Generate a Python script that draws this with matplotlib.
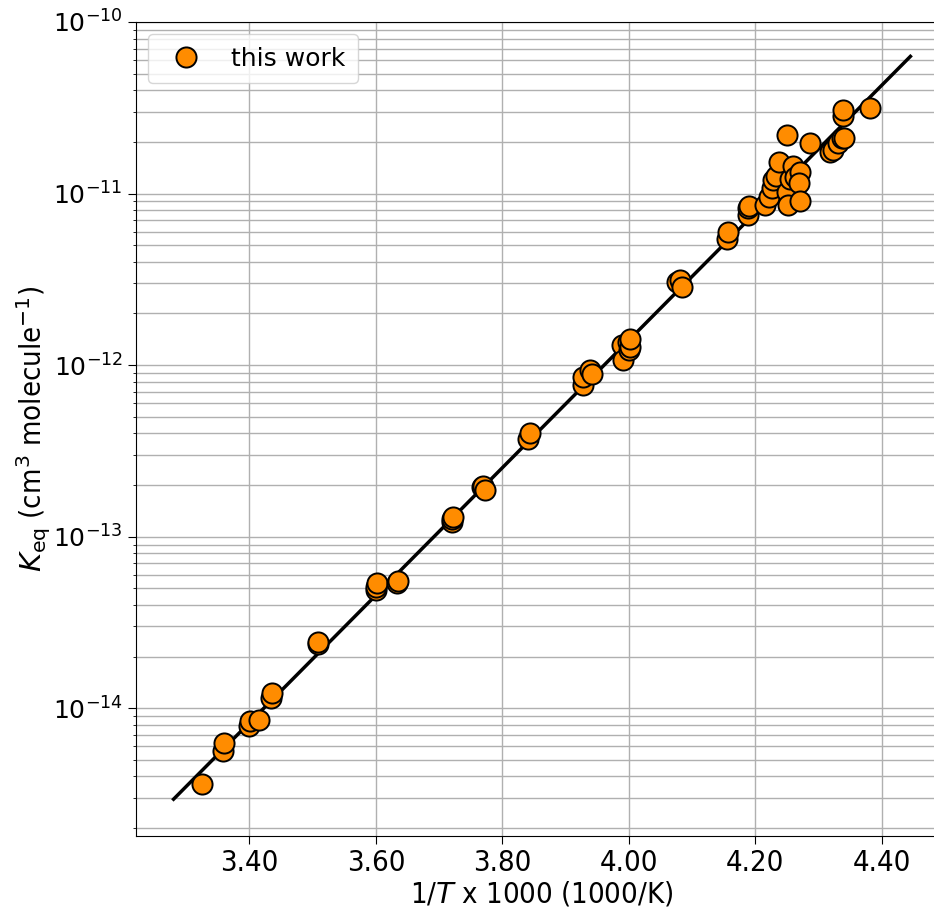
import matplotlib
matplotlib.use("Agg")
import matplotlib.pyplot as plt
from matplotlib import font_manager

# === Data ===
inv_T = [3.325, 3.358, 3.360, 3.400, 3.401, 3.415, 3.434, 3.435, 3.508, 3.509,
         3.600, 3.600, 3.601, 3.633, 3.635, 3.720, 3.721, 3.722, 3.768, 3.770,
         3.772, 3.841, 3.843, 3.927, 3.928, 3.938, 3.942, 3.989, 3.991, 3.998,
         4.000, 4.002, 4.001, 4.076, 4.081, 4.084, 4.155, 4.157, 4.188, 4.189,
         4.190, 4.215, 4.222, 4.226, 4.228, 4.232, 4.237, 4.250, 4.250, 4.252,
         4.255, 4.260, 4.262, 4.270, 4.269, 4.270, 4.286, 4.318, 4.322, 4.330,
         4.337, 4.340, 4.338, 4.339, 4.381]
k_eq = [3.6e-15, 5.6e-15, 6.3e-15, 7.9e-15, 8.4e-15, 8.5e-15, 1.14e-14, 1.22e-14, 2.37e-14, 2.43e-14,
        4.9e-14, 5.1e-14, 5.4e-14, 5.4e-14, 5.5e-14, 1.22e-13, 1.27e-13, 1.30e-13, 1.94e-13, 1.97e-13,
        1.87e-13, 3.7e-13, 4.0e-13, 7.7e-13, 8.5e-13, 9.4e-13, 8.9e-13, 1.31e-12, 1.07e-12, 1.36e-12,
        1.22e-12, 1.27e-12, 1.42e-12, 3.05e-12, 3.15e-12, 2.85e-12, 5.4e-12, 6.0e-12, 7.5e-12, 8.2e-12,
        8.5e-12, 8.6e-12, 9.5e-12, 1.08e-11, 1.20e-11, 1.27e-11, 1.52e-11, 2.19e-11, 1.02e-11, 8.6e-12,
        1.22e-11, 1.45e-11, 1.25e-11, 1.33e-11, 1.15e-11, 9.0e-12, 1.97e-11, 1.75e-11, 1.80e-11, 1.97e-11,
        2.11e-11, 2.10e-11, 2.85e-11, 3.07e-11, 3.15e-11]

# fitted line end points
fit_x = [3.28, 4.445]
fit_y = [2.95e-15, 6.3e-11]

x_ticks = [3.40, 3.60, 3.80, 4.00, 4.20, 4.40]
x_ticklabels = ["3.40", "3.60", "3.80", "4.00", "4.20", "4.40"]
y_ticks = [1e-14, 1e-13, 1e-12, 1e-11, 1e-10]

# use a condensed face for the axis text if one is installed
cond = font_manager.FontProperties(family="DejaVu Sans", stretch="condensed")
has_cond = "ondensed" in font_manager.findfont(cond, fallback_to_default=False)
lab_size = 21 if has_cond else 18

plt.rcParams["mathtext.fontset"] = "dejavusans"

fig = plt.figure(figsize=(9.34, 9.08), dpi=100)
ax = fig.add_axes([0.1456, 0.0793, 1.014 - 0.1456, 0.9758 - 0.0793])

ax.grid(True, which="both", color="#b0b0b0", linewidth=1.0, zorder=0)
ax.set_axisbelow(True)

ax.plot(fit_x, fit_y, color="black", linewidth=2.5, zorder=2)
ax.plot(inv_T, k_eq, "o", color="#ff8c00", markeredgecolor="black",
        markeredgewidth=1.4, markersize=14.5, label="this work", zorder=3)

ax.set_yscale("log")
ax.set_yticks(y_ticks)
ax.set_xlim(3.2206, 4.503)
ax.set_ylim(1.8e-15, 1e-10)

ax.set_xticks(x_ticks)
ax.set_xticklabels(x_ticklabels, fontsize=lab_size, fontstretch="condensed")
ax.tick_params(axis="y", labelsize=18)
ax.tick_params(axis="both", which="major", length=6)

ax.set_xlabel(r"1/$T$ x 1000 (1000/K)", fontsize=lab_size, fontstretch="condensed",
              labelpad=2)
ax.set_ylabel(r"$K_{\mathrm{eq}}$ (cm$^{3}$ molecule$^{-1}$)", fontsize=lab_size,
              fontstretch="condensed", labelpad=0)

ax.legend(loc="upper left", fontsize=18, borderpad=0.5)

fig.savefig("out.png", dpi=100)
plt.close(fig)
print("Done! Figure saved as out.png")
